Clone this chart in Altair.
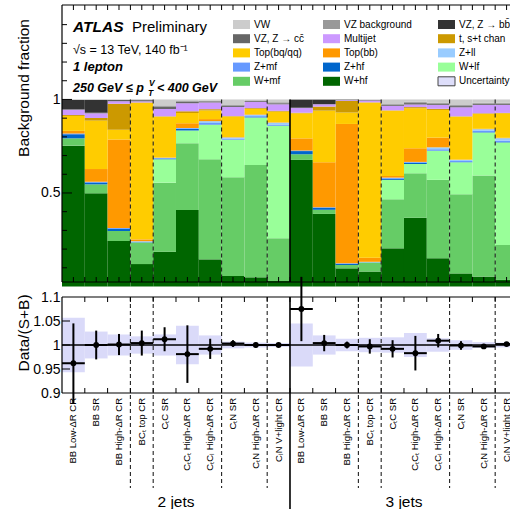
import altair as alt
import pandas as pd

# ---------------- data ----------------
region_labels = ["BB Low-ΔR CR", "BB SR", "BB High-ΔR CR", "BCₜ top CR", "CₜC SR",
                 "CₜCₜ High-ΔR CR", "CₜCₗ High-ΔR CR", "CₜN SR", "CₜN High-ΔR CR", "CₗN V+light CR"]
bin_labels = region_labels + region_labels
jet_labels = ["2 jets", "3 jets"]

components = ["W+hf", "W+mf", "W+lf", "Z+hf", "Z+mf", "Z+ll", "Top(bb)", "Top(bq/qq)",
              "t, s+t chan", "Multijet", "VZ, Z → cc̄", "VZ, Z → bb̄", "VZ background", "VW"]
component_colors = ["#006600", "#66cc66", "#99ff99", "#0066cc", "#6699ff", "#99ccff",
                    "#ff9900", "#ffcc00", "#cc9900", "#cc99ff", "#666666", "#333333", "#999999", "#cccccc"]

w_hf = [.753, .498, .243, .120, .186, .409, .145, .056, .049, .030,
        .677, .388, .097, .080, .204, .368, .151, .070, .053, .035]
w_mf = [.039, .048, .054, .114, .369, .357, .535, .528, .601, .228,
        .030, .022, .018, .047, .262, .237, .419, .423, .540, .187]
w_lf = [0, 0, 0, .002, .125, .068, .184, .200, .253, .600,
        0, 0, 0, .002, .104, .050, .155, .171, .230, .548]
z_hf = [.022, .010, .012, .002, .004, .008, .002, .001, .002, .002,
        .017, .011, .006, .001, .006, .007, .002, .001, .002, .002]
z_mf = [.004, .004, .004, .002, .003, .004, .008, .006, .006, .006,
        .003, .003, .003, .001, .004, .003, .007, .006, .007, .008]
z_ll = [0, 0, 0, .002, .001, .002, .010, .006, .007, .010,
        0, 0, 0, .001, .002, .001, .010, .006, .009, .013]
top_bb = [.014, .068, .473, .010, .002, .025, .011, .002, .003, .002,
          .065, .240, .745, .022, .009, .073, .052, .002, .002, .002]
top_bq = [.080, .259, .052, .730, .218, .054, .046, .110, .029, .057,
          .134, .276, .061, .829, .349, .214, .148, .229, .080, .131]
single_top = [.005, .014, .139, .002, .002, .010, .007, .002, .004, .004,
              .003, .022, .062, .002, .002, .006, .006, .002, .003, .002]
multijet = [.028, .025, .014, .006, .039, .043, .036, .049, .033, .035,
            .025, .012, .004, .009, .023, .014, .021, .048, .045, .043]
vz_cc = [.002, .003, .002, .005, .011, .006, .004, .007, .004, .005,
         .002, .001, .001, .002, .004, .007, .005, .006, .005, .005]
vz_bb = [.050, .068, .004, .002, .002, .002, .002, .001, .001, .001,
         .043, .024, .002, .001, .001, .002, .002, .001, .001, .001]
vz_bkg = [.002, .002, .002, .002, .006, .004, .003, .005, .003, .005,
          .001, .001, .001, .001, .005, .006, .005, .005, .005, .005]
vw = [.001, .001, .001, .001, .032, .008, .007, .027, .005, .015,
      0, 0, 0, .002, .025, .012, .017, .030, .018, .018]
series = [w_hf, w_mf, w_lf, z_hf, z_mf, z_ll, top_bb, top_bq, single_top,
          multijet, vz_cc, vz_bb, vz_bkg, vw]

ratio = [0.962, 1.000, 1.001, 1.004, 1.012, 0.981, 0.992, 1.003, 1.000, 1.000,
         1.075, 1.004, 1.000, 0.997, 0.992, 0.983, 1.009, 0.999, 0.997, 1.002]
ratio_err = [0.083, 0.030, 0.022, 0.026, 0.025, 0.060, 0.021, 0.007, 0.005, 0.003,
             0.067, 0.017, 0.007, 0.015, 0.018, 0.036, 0.014, 0.009, 0.005, 0.004]
syst_unc = [0.057, 0.028, 0.022, 0.018, 0.022, 0.040, 0.020, 0.007, 0.005, 0.004,
            0.045, 0.020, 0.013, 0.015, 0.016, 0.025, 0.014, 0.010, 0.006, 0.005]

dashed_edges = [3, 4, 7, 9, 13, 14, 17, 19]
solid_edges = [10]

# ---------------- tables ----------------
bar_rows = []
for k, (name, vals) in enumerate(zip(components, series)):
    for b, v in enumerate(vals):
        bar_rows.append({"bin": b, "comp": name, "order": k, "frac": v})
bars_df = pd.DataFrame(bar_rows)

bins_df = pd.DataFrame({"bin": list(range(len(bin_labels))), "label": bin_labels,
                        "ratio": ratio, "err": ratio_err, "unc": syst_unc})
jets_df = pd.DataFrame({"jet": jet_labels, "idx": [0, 1]})
dashed_df = pd.DataFrame({"edge": dashed_edges, "top": [1.0] * len(dashed_edges)})
solid_df = pd.DataFrame({"edge": solid_edges, "top": [1.0] * len(solid_edges)})
one_df = pd.DataFrame({"a": [0]})

legend_names = components[::-1] + ["Uncertainty"]
legend_colors = component_colors[::-1] + ["#dedefa"]
legend_df = pd.DataFrame({"name": legend_names, "color": legend_colors,
                          "idx": list(range(len(legend_names)))})

# ---------------- geometry ----------------
W, H = 448, 504
TOP_B = 277
BOT_T, BOT_B = 292, 388
XMAX = 19.65
FONT = "Liberation Sans"

xs = alt.Scale(domain=[0, XMAX], nice=False, zero=False)
ys_top = alt.Scale(domain=[0.024, 1.505], range=[TOP_B, 0], nice=False, zero=False)
ys_bot = alt.Scale(domain=[0.9, 1.1], range=[BOT_B, BOT_T], nice=False, zero=False)

top_axis = alt.Axis(orient="left", values=[0.5, 1], format="~g", ticks=False, tickSize=0,
                    domain=False, grid=False, title=None, labelFontSize=14, labelFont=FONT,
                    labelColor="black", labelPadding=2, labelFlush=False, labelOverlap=False)
bot_axis = alt.Axis(orient="left", values=[0.9, 0.95, 1, 1.05, 1.1], format="~g", ticks=False,
                    tickSize=0, domain=False, grid=False, title=None, labelFontSize=14,
                    labelFont=FONT, labelColor="black", labelPadding=2, labelFlush=False,
                    labelOverlap=False)

layers = []

# stacked fractions
layers.append(
    alt.Chart(bars_df)
    .transform_stack(stack="frac", as_=["y0", "y1"], groupby=["bin"],
                     sort=[alt.SortField("order", order="ascending")])
    .transform_calculate(b1="datum.bin + 1")
    .mark_rect(clip=True)
    .encode(x=alt.X("bin:Q", scale=xs, axis=None), x2="b1:Q",
            y=alt.Y("y0:Q", scale=ys_top, axis=top_axis), y2="y1:Q",
            color=alt.Color("comp:N", scale=alt.Scale(domain=components, range=component_colors),
                            legend=None))
)

# uncertainty band (ratio panel)
layers.append(
    alt.Chart(bins_df)
    .transform_calculate(b1="datum.bin + 1", lo="1 - datum.unc", hi="1 + datum.unc")
    .mark_rect(clip=True, color="#dadaf9", opacity=1)
    .encode(x=alt.X("bin:Q", scale=xs, axis=None), x2="b1:Q",
            y=alt.Y("lo:Q", scale=ys_bot, axis=bot_axis), y2="hi:Q")
)

# line at 1
layers.append(
    alt.Chart(pd.DataFrame({"v": [1.0]}))
    .mark_rule(color="black", strokeWidth=1.5)
    .encode(y=alt.Y("v:Q", scale=ys_bot, axis=None), x=alt.value(0), x2=alt.value(W))
)

# separators: top panel (from the stack top down), ratio panel (extending into labels)
layers.append(
    alt.Chart(dashed_df).mark_rule(color="#222222", strokeWidth=1.1, strokeDash=[4, 3])
    .encode(x=alt.X("edge:Q", scale=xs, axis=None),
            y=alt.Y("top:Q", scale=ys_top, axis=None), y2=alt.value(TOP_B))
)
layers.append(
    alt.Chart(dashed_df).mark_rule(color="#222222", strokeWidth=1.1, strokeDash=[4, 3])
    .encode(x=alt.X("edge:Q", scale=xs, axis=None), y=alt.value(BOT_T), y2=alt.value(483))
)
layers.append(
    alt.Chart(solid_df).mark_rule(color="black", strokeWidth=1.6)
    .encode(x=alt.X("edge:Q", scale=xs, axis=None),
            y=alt.Y("top:Q", scale=ys_top, axis=None), y2=alt.value(TOP_B))
)
layers.append(
    alt.Chart(solid_df).mark_rule(color="black", strokeWidth=1.6)
    .encode(x=alt.X("edge:Q", scale=xs, axis=None), y=alt.value(BOT_T), y2=alt.value(H))
)

# data / (S+B) points with error bars
layers.append(
    alt.Chart(bins_df)
    .transform_calculate(c="datum.bin + 0.5", lo="datum.ratio - datum.err",
                         hi="datum.ratio + datum.err")
    .mark_rule(color="black", strokeWidth=2, clip=True)
    .encode(x=alt.X("c:Q", scale=xs, axis=None),
            y=alt.Y("lo:Q", scale=ys_bot, axis=None), y2="hi:Q")
)
layers.append(
    alt.Chart(bins_df)
    .transform_calculate(b1="datum.bin + 1")
    .mark_rule(color="black", strokeWidth=2, clip=True)
    .encode(x=alt.X("bin:Q", scale=xs, axis=None), x2="b1:Q",
            y=alt.Y("ratio:Q", scale=ys_bot, axis=None))
)
layers.append(
    alt.Chart(bins_df)
    .transform_calculate(c="datum.bin + 0.5")
    .mark_circle(color="black", opacity=1, size=34, clip=True)
    .encode(x=alt.X("c:Q", scale=xs, axis=None), y=alt.Y("ratio:Q", scale=ys_bot, axis=None))
)

# frame lines
for (xa, xb, ya, yb) in [(0, W, 0, 0), (0, W, TOP_B, TOP_B), (0, 0, 0, TOP_B),
                         (0, W, BOT_T, BOT_T), (0, W, BOT_B, BOT_B), (0, 0, BOT_T, BOT_B)]:
    layers.append(
        alt.Chart(one_df).mark_rule(color="black", strokeWidth=1.2)
        .encode(x=alt.value(xa), x2=alt.value(xb), y=alt.value(ya), y2=alt.value(yb))
    )

# inward ticks
top_minor = [0.1, 0.2, 0.3, 0.4, 0.6, 0.7, 0.8, 0.9, 1.1, 1.2, 1.3, 1.4]
top_major = [0.5, 1.0]
for vals, ln in [(top_minor, 5), (top_major, 10)]:
    layers.append(
        alt.Chart(pd.DataFrame({"v": vals})).mark_rule(color="black", strokeWidth=1)
        .encode(y=alt.Y("v:Q", scale=ys_top, axis=None), x=alt.value(0), x2=alt.value(ln))
    )
bot_ticks = [0.95, 1.0, 1.05]
layers.append(
    alt.Chart(pd.DataFrame({"v": bot_ticks})).mark_rule(color="black", strokeWidth=1)
    .encode(y=alt.Y("v:Q", scale=ys_bot, axis=None), x=alt.value(0), x2=alt.value(8))
)
half_bins = [i * 0.5 for i in range(1, 40)]
edges = list(range(1, 20))
for vals, ya, yb in [(half_bins, TOP_B, TOP_B - 5), (half_bins, 0, 5),
                     (edges, BOT_T, BOT_T + 5), (edges, BOT_B, BOT_B - 5)]:
    layers.append(
        alt.Chart(pd.DataFrame({"t": vals})).mark_rule(color="black", strokeWidth=1)
        .encode(x=alt.X("t:Q", scale=xs, axis=None), y=alt.value(ya), y2=alt.value(yb))
    )

# bin labels (rotated)
layers.append(
    alt.Chart(bins_df).transform_calculate(c="datum.bin + 0.5")
    .mark_text(angle=270, align="right", baseline="middle", fontSize=9.5, font=FONT,
               color="black")
    .encode(x=alt.X("c:Q", scale=xs, axis=None), y=alt.value(BOT_B + 5), text="label:N")
)
layers.append(
    alt.Chart(jets_df).transform_calculate(c="datum.idx * 10 + 5")
    .mark_text(align="center", baseline="middle", fontSize=15.5, font=FONT, color="black")
    .encode(x=alt.X("c:Q", scale=xs, axis=None), y=alt.value(497), text="jet:N")
)

# axis titles
for txt, yc in [("Background fraction", 83), ("Data/(S+B)", 328)]:
    layers.append(
        alt.Chart(one_df).mark_text(angle=270, align="center", baseline="middle",
                                    fontSize=15.5, font=FONT, color="black")
        .encode(x=alt.value(-38), y=alt.value(yc), text=alt.value(txt))
    )

# ATLAS labels
for txt, xv, yv, size, weight, style in [
        ("ATLAS", 11, 22, 15.5, "bold", "italic"),
        ("Preliminary", 70, 22, 15, "normal", "normal"),
        ("√s = 13 TeV, 140 fb⁻¹", 11, 45, 12.5, "normal", "normal"),
        ("1 lepton", 11, 62, 13, "bold", "italic"),
        ("250 GeV ≤ p", 11, 83, 12.5, "bold", "italic"),
        ("V", 87, 78, 8.5, "bold", "italic"),
        ("T", 86, 88, 8.5, "bold", "italic"),
        ("< 400 GeV", 95, 83, 12.5, "bold", "italic")]:
    layers.append(
        alt.Chart(one_df).mark_text(align="left", baseline="middle", fontSize=size, font=FONT,
                                    fontWeight=weight, fontStyle=style, color="black")
        .encode(x=alt.value(xv), y=alt.value(yv), text=alt.value(txt))
    )

# legend
leg = alt.Chart(legend_df).transform_calculate(
    col="datum.idx % 3", row="floor(datum.idx / 3)"
).transform_calculate(
    lx="datum.col == 0 ? 171 : (datum.col == 1 ? 261 : 376)",
    ly="19.5 + datum.row * 14.2"
).transform_calculate(
    lx2="datum.lx + 17", ly0="datum.ly - 4.5", ly1="datum.ly + 4.5", tx="datum.lx + 21"
)
layers.append(
    leg.mark_rect(clip=True)
    .encode(x=alt.X("lx:Q", scale=None), x2="lx2:Q", y=alt.Y("ly0:Q", scale=None), y2="ly1:Q",
            fill=alt.Fill("color:N", scale=None))
)
layers.append(
    leg.transform_filter("datum.idx == 14").mark_rect(fill="transparent", stroke="#444444",
                                                      strokeWidth=1)
    .encode(x=alt.X("lx:Q", scale=None), x2="lx2:Q", y=alt.Y("ly0:Q", scale=None), y2="ly1:Q")
)
layers.append(
    leg.mark_text(align="left", baseline="middle", fontSize=10, font=FONT, color="black",
                  clip=True)
    .encode(x=alt.X("tx:Q", scale=None), y=alt.Y("ly:Q", scale=None), text="name:N")
)

chart = (
    alt.layer(*layers)
    .resolve_scale(y="independent")
    .resolve_axis(y="independent")
    .properties(width=W, height=H, autosize=alt.AutoSizeParams(type="none"),
                padding={"left": 62, "top": 5, "right": 0, "bottom": 0})
    .configure_view(stroke=None)
)

chart.save("out.html", embed_options={"renderer": "svg", "actions": False})
